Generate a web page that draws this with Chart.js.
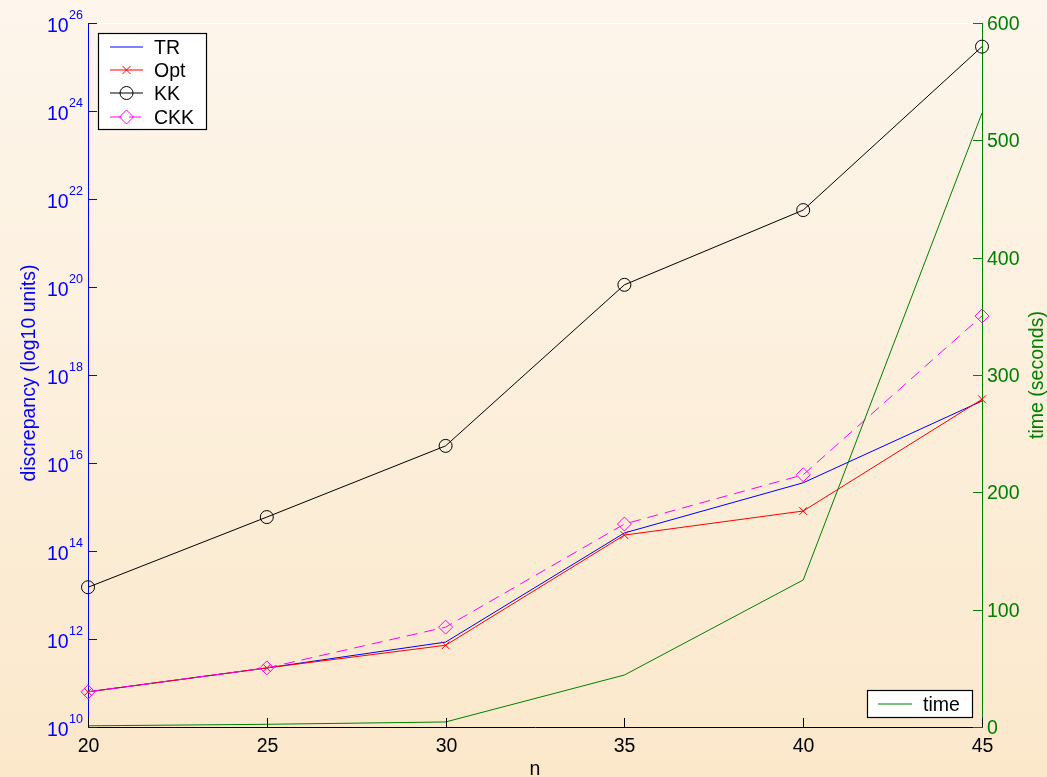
<!DOCTYPE html>
<html>
<head>
<meta charset="utf-8">
<script src="https://cdn.jsdelivr.net/npm/chart.js@4.4.1/dist/chart.umd.min.js"></script>
<style>
  html, body { margin: 0; padding: 0; background: #fcefdc; }
  canvas { display: block; }
</style>
</head>
<body>
<canvas id="c" width="1047" height="777"></canvas>
<script>
// Problem size n
const nValues = [20, 25, 30, 35, 40, 45];

// Discrepancy per algorithm
const trDisc  = [6.3e10, 2.2e11, 8.5e11, 2.57e14, 3.55e15, 2.57e17];
const optDisc = [6.3e10, 2.2e11, 7.2e11, 2.3e14, 8.1e14, 2.8e17];
const kkDisc  = [1.5e13, 5.9e14, 2.45e16, 1.12e20, 5.6e21, 2.9e25];
const ckkDisc = [6.3e10, 2.2e11, 1.86e12, 4.1e14, 5.4e15, 2.2e19];

// Running time in seconds
const timeSeconds = [1.0, 2.3, 4.3, 44.3, 125.3, 523.3];

// Tick positions
const xTicks = [20, 25, 30, 35, 40, 45];
const leftExponents = [10, 12, 14, 16, 18, 20, 22, 24, 26];
const rightTicks = [0, 100, 200, 300, 400, 500, 600];

const FONT = '"Liberation Sans", Arial, Helvetica, sans-serif';
const BLUE = '#0000ff';
const RED = '#ff0000';
const MAGENTA = '#ff00ff';
const GREEN = '#008000';

const pts = arr => nValues.map((n, i) => ({ x: n, y: arr[i] }));

function drawCross(ctx, cx, cy, r) {
  ctx.beginPath();
  ctx.moveTo(cx - r, cy - r); ctx.lineTo(cx + r, cy + r);
  ctx.moveTo(cx - r, cy + r); ctx.lineTo(cx + r, cy - r);
  ctx.stroke();
}
function drawDiamond(ctx, cx, cy, r) {
  ctx.beginPath();
  ctx.moveTo(cx, cy - r); ctx.lineTo(cx + r, cy); ctx.lineTo(cx, cy + r); ctx.lineTo(cx - r, cy);
  ctx.closePath();
  ctx.stroke();
}

const decor = {
  id: 'decor',
  beforeDraw(chart) {
    const ctx = chart.ctx;
    const g = ctx.createLinearGradient(0, 0, 0, chart.height);
    g.addColorStop(0, '#fdf6ec');
    g.addColorStop(1, '#fbe8cb');
    ctx.save();
    ctx.fillStyle = g;
    ctx.fillRect(0, 0, chart.width, chart.height);
    ctx.restore();
  },
  afterDraw(chart) {
    const ctx = chart.ctx;
    const a = chart.chartArea;
    const sx = chart.scales.x, sy = chart.scales.y, sy2 = chart.scales.y2;
    ctx.save();
    ctx.lineWidth = 1;

    // top frame edge
    ctx.strokeStyle = '#ffffff';
    ctx.beginPath(); ctx.moveTo(a.left, a.top + 0.5); ctx.lineTo(a.right, a.top + 0.5); ctx.stroke();

    // x ticks + labels
    ctx.strokeStyle = '#000000';
    ctx.fillStyle = '#000000';
    ctx.font = `19.5px ${FONT}`;
    ctx.textAlign = 'center';
    ctx.textBaseline = 'alphabetic';
    xTicks.forEach(v => {
      const x = Math.round(sx.getPixelForValue(v)) + 0.5;
      ctx.beginPath(); ctx.moveTo(x, a.bottom); ctx.lineTo(x, a.bottom - 9); ctx.stroke();
      ctx.fillText(String(v), x, a.bottom + 25);
    });
    ctx.fillText('n', (a.left + a.right) / 2, a.bottom + 48);

    // left log ticks with exponent labels
    ctx.strokeStyle = BLUE;
    ctx.fillStyle = BLUE;
    ctx.textAlign = 'right';
    leftExponents.forEach(e => {
      const y = Math.round(sy.getPixelForValue(Math.pow(10, e))) + 0.5;
      ctx.beginPath(); ctx.moveTo(a.left, y); ctx.lineTo(a.left + 9, y); ctx.stroke();
      ctx.font = `12.5px ${FONT}`;
      const exp = String(e);
      const ew = ctx.measureText(exp).width;
      ctx.fillText(exp, a.left - 5, y - 5);
      ctx.font = `19.5px ${FONT}`;
      ctx.fillText('10', a.left - 5 - ew - 0.5, y + 8);
    });
    ctx.save();
    ctx.translate(35, (a.top + a.bottom) / 2 - 2);
    ctx.rotate(-Math.PI / 2);
    ctx.textAlign = 'center';
    ctx.font = `19.5px ${FONT}`;
    ctx.fillText('discrepancy (log10 units)', 0, 0);
    ctx.restore();

    // right linear ticks
    ctx.strokeStyle = GREEN;
    ctx.fillStyle = GREEN;
    ctx.textAlign = 'left';
    ctx.textBaseline = 'middle';
    ctx.font = `19.5px ${FONT}`;
    rightTicks.forEach(v => {
      const y = Math.round(sy2.getPixelForValue(v)) + 0.5;
      ctx.beginPath(); ctx.moveTo(a.right, y); ctx.lineTo(a.right - 9, y); ctx.stroke();
      ctx.fillText(String(v), a.right + 5, y + 1.5);
    });
    ctx.save();
    ctx.translate(1043, (a.top + a.bottom) / 2);
    ctx.rotate(-Math.PI / 2);
    ctx.textAlign = 'center';
    ctx.textBaseline = 'alphabetic';
    ctx.fillText('time (seconds)', 0, 0);
    ctx.restore();

    // discrepancy legend
    ctx.textBaseline = 'alphabetic';
    ctx.fillStyle = '#ffffff';
    ctx.fillRect(98.5, 33.5, 108, 96);
    ctx.strokeStyle = '#000000';
    ctx.lineWidth = 1.2;
    ctx.strokeRect(98.5, 33.5, 108, 96);
    ctx.lineWidth = 1;
    const rows = [
      { label: 'TR', color: BLUE, y: 47 },
      { label: 'Opt', color: RED, y: 70, mark: 'cross' },
      { label: 'KK', color: '#000000', y: 93, mark: 'circle' },
      { label: 'CKK', color: MAGENTA, y: 117, mark: 'diamond', dash: [12, 7] }
    ];
    rows.forEach(r => {
      ctx.strokeStyle = r.color;
      ctx.setLineDash(r.dash || []);
      ctx.beginPath(); ctx.moveTo(110, r.y); ctx.lineTo(143, r.y); ctx.stroke();
      ctx.setLineDash([]);
      const cx = 126.5;
      if (r.mark === 'cross') drawCross(ctx, cx, r.y, 4);
      if (r.mark === 'circle') { ctx.beginPath(); ctx.arc(cx, r.y, 6.5, 0, Math.PI * 2); ctx.stroke(); }
      if (r.mark === 'diamond') drawDiamond(ctx, cx, r.y, 7);
      ctx.fillStyle = '#000000';
      ctx.font = `19.5px ${FONT}`;
      ctx.textAlign = 'left';
      ctx.fillText(r.label, 154, r.y + 7);
    });

    // time legend
    ctx.fillStyle = '#ffffff';
    ctx.fillRect(867.5, 690.5, 105, 27);
    ctx.strokeStyle = '#000000';
    ctx.lineWidth = 1.2;
    ctx.strokeRect(867.5, 690.5, 105, 27);
    ctx.lineWidth = 1;
    ctx.strokeStyle = GREEN;
    ctx.beginPath(); ctx.moveTo(878, 704); ctx.lineTo(912, 704); ctx.stroke();
    ctx.fillStyle = '#000000';
    ctx.fillText('time', 923, 711);

    ctx.restore();
  }
};

new Chart(document.getElementById('c'), {
  type: 'line',
  data: {
    datasets: [
      { label: 'time', data: pts(timeSeconds), yAxisID: 'y2', borderColor: GREEN, borderWidth: 1, pointRadius: 0, order: 0 },
      { label: 'CKK', data: pts(ckkDisc), yAxisID: 'y', borderColor: MAGENTA, borderWidth: 1, borderDash: [11, 7],
        pointStyle: 'rectRot', pointRadius: 7, pointBorderColor: MAGENTA, pointBackgroundColor: 'rgba(0,0,0,0)', pointBorderWidth: 1, order: 1 },
      { label: 'KK', data: pts(kkDisc), yAxisID: 'y', borderColor: '#000000', borderWidth: 1,
        pointStyle: 'circle', pointRadius: 6.5, pointBorderColor: '#000000', pointBackgroundColor: 'rgba(0,0,0,0)', pointBorderWidth: 1, order: 2 },
      { label: 'Opt', data: pts(optDisc), yAxisID: 'y', borderColor: RED, borderWidth: 1,
        pointStyle: 'crossRot', pointRadius: 5.5, pointBorderColor: RED, pointBorderWidth: 1, order: 3 },
      { label: 'TR', data: pts(trDisc), yAxisID: 'y', borderColor: BLUE, borderWidth: 1, pointRadius: 0, order: 4 }
    ]
  },
  options: {
    responsive: false,
    animation: false,
    events: [],
    clip: false,
    layout: { padding: { left: 88, right: 65, top: 23, bottom: 50 } },
    plugins: { legend: { display: false }, tooltip: { enabled: false } },
    scales: {
      x: {
        type: 'linear', min: 20, max: 45,
        grid: { display: false, drawTicks: false },
        ticks: { display: false },
        border: { display: true, color: '#000000', width: 1 }
      },
      y: {
        type: 'logarithmic', position: 'left', min: 1e10, max: 1e26,
        grid: { display: false, drawTicks: false },
        ticks: { display: false },
        border: { display: true, color: BLUE, width: 1 }
      },
      y2: {
        type: 'linear', position: 'right', min: 0, max: 600,
        grid: { display: false, drawTicks: false },
        ticks: { display: false },
        border: { display: true, color: GREEN, width: 1 }
      }
    }
  },
  plugins: [decor]
});
</script>
</body>
</html>
